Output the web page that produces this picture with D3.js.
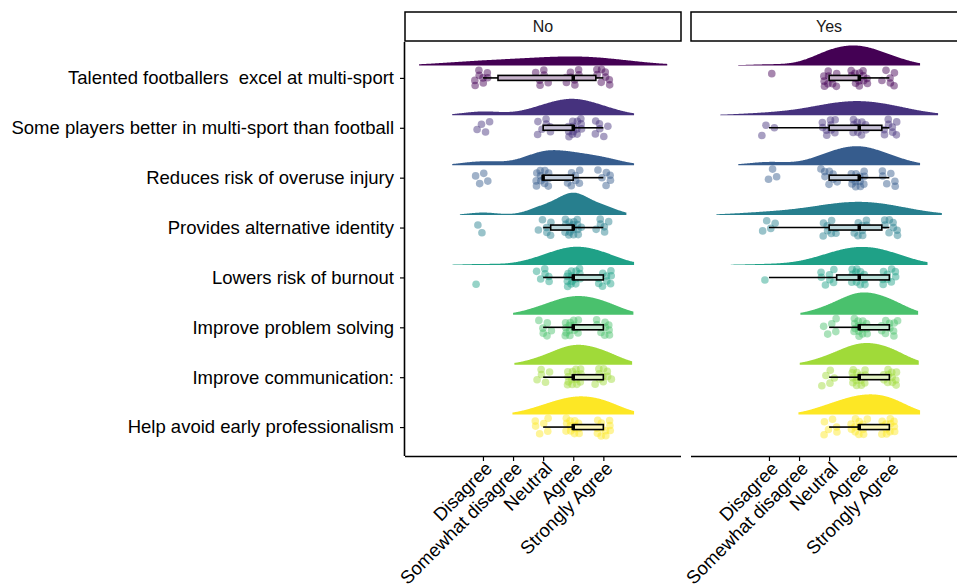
<!DOCTYPE html>
<html lang="en">
<head>
<meta charset="UTF-8">
<title>Multi-sport raincloud</title>
<script src="https://d3js.org/d3.v7.min.js"></script>
<style>
  body { margin: 0; background: #fff; }
  svg { font-family: "Liberation Sans", Arial, sans-serif; }
</style>
</head>
<body>
<div id="chart"></div>
<script>
const categories = [
  "Talented footballers  excel at multi-sport",
  "Some players better in multi-sport than football",
  "Reduces risk of overuse injury",
  "Provides alternative identity",
  "Lowers risk of burnout",
  "Improve problem solving",
  "Improve communication:",
  "Help avoid early professionalism"
];
const groups = ["No", "Yes"];
const levels = ["Disagree", "Somewhat disagree", "Neutral", "Agree", "Strongly Agree"];
const levelValues = [1, 2, 3, 4, 5];

// number of answers per level (Disagree .. Strongly Agree), one row per statement
const countsNo = [
  [8, 0, 6, 8, 8],
  [4, 0, 7, 13, 6],
  [4, 0, 12, 8, 6],
  [2, 0, 6, 16, 6],
  [1, 0, 6, 14, 9],
  [0, 0, 6, 14, 10],
  [0, 0, 5, 15, 10],
  [0, 0, 6, 13, 11]
];
const countsYes = [
  [1, 0, 10, 13, 6],
  [3, 0, 9, 10, 8],
  [3, 0, 8, 13, 6],
  [4, 0, 8, 10, 8],
  [1, 0, 7, 13, 9],
  [0, 0, 5, 15, 10],
  [0, 0, 5, 14, 11],
  [0, 0, 6, 12, 12]
];

const width = 957, height = 588;
const panelTop = 42, panelBottom = 456, panelW = 276;
const panelLeft = {No: 405, Yes: 691};
const colors = d3.quantize(d3.interpolateViridis, categories.length);

const svg = d3.select("#chart").append("svg")
  .attr("width", width).attr("height", height);

const y = d3.scaleLinear().domain([-0.72, 7.58]).range([panelTop, panelBottom]);
const unitY = y(1) - y(0);

// expand raw counts to individual answers
function expand(counts) {
  const out = [];
  counts.forEach((c, i) => { for (let k = 0; k < c; k++) out.push(levelValues[i]); });
  return out;
}

function bwNrd0(v) {
  const sd = d3.deviation(v);
  const iqr = d3.quantile(v, 0.75) - d3.quantile(v, 0.25);
  const lo = Math.min(sd, iqr / 1.34) || sd || 1;
  return 0.9 * lo * Math.pow(v.length, -0.2);
}

// gaussian kernel density, smoothed (adjust = 2), cut at 1.5 bandwidths
function kde(v) {
  const bw = 2 * bwNrd0(v);
  const lo = d3.min(v) - 1.5 * bw, hi = d3.max(v) + 1.5 * bw;
  return d3.range(256).map(i => {
    const x = lo + (hi - lo) * i / 255;
    const d = d3.sum(v, xi => Math.exp(-0.5 * ((x - xi) / bw) ** 2)) / (v.length * bw * Math.sqrt(2 * Math.PI));
    return [x, d];
  });
}

function boxStats(v) {
  const q1 = d3.quantile(v, 0.25), med = d3.quantile(v, 0.5), q3 = d3.quantile(v, 0.75);
  const iqr = q3 - q1;
  const lo = d3.min(v.filter(d => d >= q1 - 1.5 * iqr));
  const hi = d3.max(v.filter(d => d <= q3 + 1.5 * iqr));
  return {q1, med, q3, lo, hi};
}

// deterministic spread for the jittered points
function spread(k) {
  const a = (0.5 + k * 0.7548776662) % 1;
  const b = (0.5 + k * 0.5698402910) % 1;
  return [a - 0.5, b - 0.5];
}

const groupCounts = {No: countsNo, Yes: countsYes};
let pointIndex = 0;

groups.forEach(g => {
  const left = panelLeft[g];
  const x = d3.scaleLinear().domain([-1.59, 7.58]).range([left, left + panelW]);
  const panel = svg.append("g");

  const rows = groupCounts[g].map((c, i) => {
    const v = expand(c).sort(d3.ascending);
    return {i, v, dens: kde(v), box: boxStats(v)};
  });
  const maxD = d3.max(rows, r => d3.max(r.dens, d => d[1]));

  rows.forEach(r => {
    const col = colors[r.i];
    const base = y(r.i) - 0.25 * unitY;
    const hScale = 0.45 * unitY / maxD;

    // half violin
    const area = d3.area()
      .x(d => x(d[0]))
      .y0(base)
      .y1(d => base - d[1] * hScale);
    panel.append("path").datum(r.dens)
      .attr("d", area)
      .attr("fill", col);

    // jittered points
    const pts = r.v.map(d => {
      const s = spread(pointIndex++);
      return {cx: x(d + s[0] * 0.55), cy: y(r.i + s[1] * 0.36)};
    });
    panel.append("g").selectAll("circle")
      .data(pts)
      .join("circle")
      .attr("cx", d => d.cx)
      .attr("cy", d => d.cy)
      .attr("r", 3.8)
      .attr("fill", col)
      .attr("fill-opacity", 0.47);

    // boxplot
    const b = r.box, cy = y(r.i), bh = 0.05 * unitY;
    const bx = panel.append("g").attr("stroke", "#000");
    bx.append("line").attr("x1", x(b.lo)).attr("x2", x(b.q1)).attr("y1", cy).attr("y2", cy).attr("stroke-width", 1.6);
    bx.append("line").attr("x1", x(b.q3)).attr("x2", x(b.hi)).attr("y1", cy).attr("y2", cy).attr("stroke-width", 1.6);
    bx.append("rect")
      .attr("x", x(b.q1)).attr("width", Math.max(0, x(b.q3) - x(b.q1)))
      .attr("y", cy - bh).attr("height", 2 * bh)
      .attr("fill", d3.interpolateRgb(col, "#fff")(0.7))
      .attr("stroke-width", 1.6);
    bx.append("line").attr("x1", x(b.med)).attr("x2", x(b.med))
      .attr("y1", cy - bh - 0.5).attr("y2", cy + bh + 0.5).attr("stroke-width", 3.5);
  });

  // x axis
  const xAxis = svg.append("g")
    .attr("transform", `translate(0,${panelBottom})`)
    .call(d3.axisBottom(x).tickValues(levelValues).tickFormat((d, i) => levels[i]).tickSize(5).tickSizeOuter(0));
  xAxis.select(".domain").attr("d", `M${left},0.5H${left + panelW}`).attr("stroke-width", 1.6);
  xAxis.selectAll(".tick line").attr("stroke-width", 1.2);
  xAxis.selectAll(".tick text")
    .attr("font-size", 18.5).attr("fill", "#000")
    .attr("text-anchor", "end")
    .attr("transform", "translate(0,4) rotate(-45)")
    .attr("dy", "0.75em").attr("y", 0).attr("x", 0);

  // strip
  svg.append("rect")
    .attr("x", left).attr("y", 12).attr("width", panelW).attr("height", panelTop - 12 - 1)
    .attr("fill", "#fff").attr("stroke", "#000").attr("stroke-width", 1.5);
  svg.append("text")
    .attr("x", left + panelW / 2).attr("y", 12 + (panelTop - 13) / 2)
    .attr("dy", "0.35em").attr("text-anchor", "middle")
    .attr("font-size", 16).attr("fill", "#1a1a1a")
    .text(g);
});

// y axis on first panel
const yAxis = svg.append("g")
  .attr("transform", `translate(${panelLeft.No},0)`)
  .call(d3.axisLeft(y).tickValues(d3.range(categories.length)).tickFormat(i => categories[i]).tickSize(5).tickSizeOuter(0));
yAxis.select(".domain").attr("d", `M-0.5,${panelTop}V${panelBottom}`).attr("stroke-width", 1.6);
yAxis.selectAll(".tick line").attr("stroke-width", 1.2);
yAxis.selectAll(".tick text")
  .attr("font-size", 18.5).attr("fill", "#000")
  .attr("x", -11)
  .style("white-space", "pre");
</script>
</body>
</html>
